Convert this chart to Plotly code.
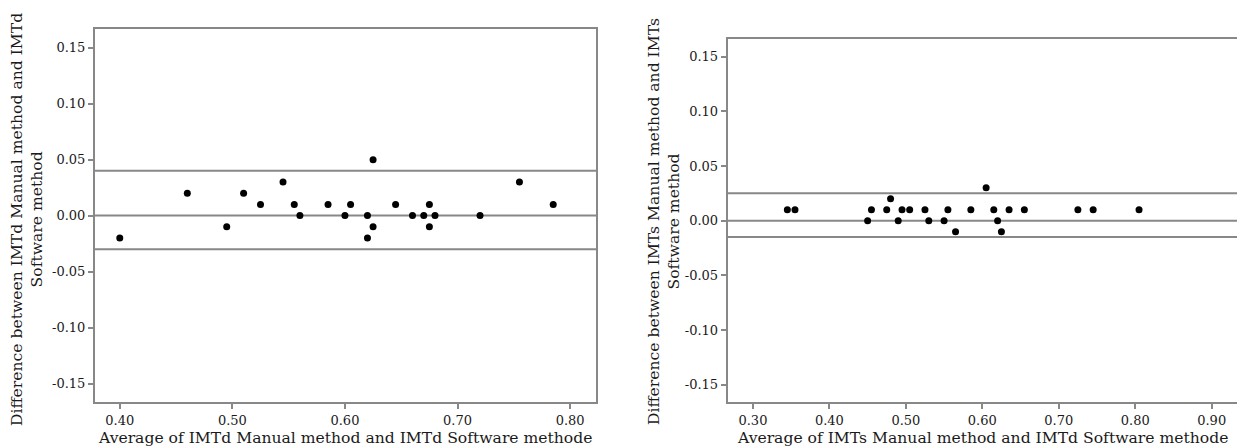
import plotly.graph_objects as go

# ---- Left panel: IMTd ----
imtd_avg = [0.400, 0.460, 0.495, 0.510, 0.525, 0.545, 0.555, 0.560, 0.585, 0.600,
            0.605, 0.620, 0.620, 0.625, 0.625, 0.645, 0.660, 0.670, 0.675, 0.675,
            0.680, 0.720, 0.755, 0.785]
imtd_diff = [-0.02, 0.02, -0.01, 0.02, 0.01, 0.03, 0.01, 0.00, 0.01, 0.00,
             0.01, 0.00, -0.02, 0.05, -0.01, 0.01, 0.00, 0.00, 0.01, -0.01,
             0.00, 0.00, 0.03, 0.01]
imtd_lines = [0.04, 0.00, -0.03]
imtd_xticks = [0.40, 0.50, 0.60, 0.70, 0.80]

# ---- Right panel: IMTs ----
imts_avg = [0.345, 0.355, 0.450, 0.455, 0.475, 0.480, 0.490, 0.495, 0.505, 0.525,
            0.530, 0.550, 0.555, 0.565, 0.585, 0.605, 0.615, 0.620, 0.625, 0.635,
            0.655, 0.725, 0.745, 0.805]
imts_diff = [0.01, 0.01, 0.00, 0.01, 0.01, 0.02, 0.00, 0.01, 0.01, 0.01,
             0.00, 0.00, 0.01, -0.01, 0.01, 0.03, 0.01, 0.00, -0.01, 0.01,
             0.01, 0.01, 0.01, 0.01]
imts_lines = [0.025, 0.00, -0.015]
imts_xticks = [0.30, 0.40, 0.50, 0.60, 0.70, 0.80, 0.90]

yticks = [0.15, 0.10, 0.05, 0.00, -0.05, -0.10, -0.15]

FONT = "DejaVu Serif"
LINE = "#888888"
TXT = "#1a1a1a"
OFF = 8            # default page body margin
W, H = 1245 - OFF, 448 - OFF

fig = go.Figure()
fig.add_trace(go.Scatter(x=imtd_avg, y=imtd_diff, mode="markers",
                         marker=dict(color="black", size=7), xaxis="x", yaxis="y",
                         showlegend=False))
fig.add_trace(go.Scatter(x=imts_avg, y=imts_diff, mode="markers",
                         marker=dict(color="black", size=7), xaxis="x2", yaxis="y2",
                         showlegend=False))

for v in imtd_lines:
    fig.add_shape(type="line", xref="x domain", yref="y", x0=0, x1=1, y0=v, y1=v,
                  line=dict(color=LINE, width=2), layer="below")
for v in imts_lines:
    fig.add_shape(type="line", xref="x2 domain", yref="y2", x0=0, x1=1, y0=v, y1=v,
                  line=dict(color=LINE, width=2), layer="below")

ax_common = dict(showgrid=False, zeroline=False, showline=True, mirror=True,
                 linecolor=LINE, linewidth=2, ticks="outside", ticklen=5,
                 tickcolor=LINE, tickwidth=1.5, automargin=False,
                 tickfont=dict(family=FONT, size=13, color=TXT))

def px_x(p):
    return (p - OFF) / W

def px_y(p):
    return 1 - (p - OFF) / H

fig.update_layout(
    width=W, height=H,
    margin=dict(l=0, r=0, t=0, b=0, autoexpand=False),
    plot_bgcolor="white", paper_bgcolor="white",
    xaxis=dict(domain=[px_x(95), px_x(596)], range=[0.378, 0.823],
               tickvals=imtd_xticks, ticktext=[f"{v:.2f}" for v in imtd_xticks],
               anchor="y", **ax_common),
    yaxis=dict(domain=[px_y(402), px_y(29)], range=[-0.1665, 0.1667],
               tickvals=yticks, ticktext=[f"{v:.2f}" for v in yticks],
               anchor="x", **ax_common),
    xaxis2=dict(domain=[px_x(727.7), px_x(1237.3)], range=[0.267, 0.9335],
                tickvals=imts_xticks, ticktext=[f"{v:.2f}" for v in imts_xticks],
                anchor="y2", **ax_common),
    yaxis2=dict(domain=[px_y(402.3), px_y(39.3)], range=[-0.166, 0.1658],
                tickvals=yticks, ticktext=[f"{v:.2f}" for v in yticks],
                anchor="x2", **ax_common),
)

title_font = dict(family=FONT, size=15.6, color=TXT)
annotations = [
    dict(text="Average of IMTd Manual method and IMTd Software methode",
         x=px_x(345.5), y=px_y(438), xref="paper", yref="paper",
         showarrow=False, font=title_font, xanchor="center", yanchor="middle"),
    dict(text="Average of IMTs Manual method and IMTd Software methode",
         x=px_x(982), y=px_y(438), xref="paper", yref="paper",
         showarrow=False, font=title_font, xanchor="center", yanchor="middle"),
    dict(text="Difference between IMTd Manual method and IMTd<br>Software method",
         x=px_x(27), y=px_y(220), xref="paper", yref="paper", textangle=-90,
         showarrow=False, font=title_font, xanchor="center", yanchor="middle"),
    dict(text="Difference between IMTs Manual method and IMTs<br>Software method",
         x=px_x(664), y=px_y(222), xref="paper", yref="paper", textangle=-90,
         showarrow=False, font=title_font, xanchor="center", yanchor="middle"),
]
fig.update_layout(annotations=annotations)

fig.write_html("out.html")
